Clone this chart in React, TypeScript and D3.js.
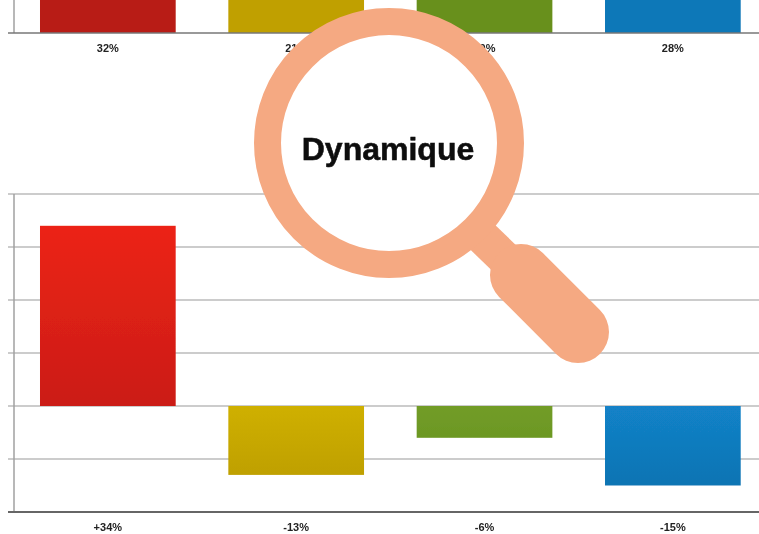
import React from 'react';
import * as d3 from 'd3';

const categories = ['a', 'b', 'c', 'd'];
const shareValues = [32, 21, 20, 28];
const shareLabels = ['32%', '21%', '20%', '28%'];
const dynamicValues = [34, -13, -6, -15];
const dynamicLabels = ['+34%', '-13%', '-6%', '-15%'];
const dynamicTicks = [40, 30, 20, 10, 0, -10, -20];
const topColors = ['#b81c14', '#c0a002', '#68901f', '#1078b8'];
const gradients = [
  ['#ec2419', '#cb1c14'],
  ['#cfb005', '#bfa000'],
  ['#729c28', '#6c9823'],
  ['#1282c8', '#0f74b3'],
];

const WIDTH = 759;
const HEIGHT = 534;

const x = d3.scaleBand<string>().domain(categories).range([14, 766.7]).paddingInner(0.2795).paddingOuter(0.138);
const y = d3.scaleLinear().domain([-20, 40]).range([512, 194]);
// the upper chart is cropped by the frame, only its baseline shows
const yTop = d3.scaleLinear().domain([0, 40]).range([33, -179]);

export default function App() {
  return (
    <svg
      width={WIDTH}
      height={HEIGHT}
      viewBox={`0 0 ${WIDTH} ${HEIGHT}`}
      style={{ position: 'absolute', left: 0, top: 0, background: '#fff' }}
      fontFamily="'Liberation Sans', Arial, sans-serif"
    >
      <defs>
        {gradients.map((g, i) => (
          <linearGradient key={i} id={`bar${i}`} x1="0" y1="0" x2="0" y2="1">
            <stop offset="0%" stopColor={g[0]} />
            <stop offset="100%" stopColor={g[1]} />
          </linearGradient>
        ))}
        <filter id="soft" x="-5%" y="-5%" width="110%" height="110%">
          <feGaussianBlur stdDeviation="0.6" />
        </filter>
      </defs>

      <g filter="url(#soft)">
        {/* upper chart */}
        <line x1={14} x2={14} y1={0} y2={33} stroke="#a0a0a0" strokeWidth={1.5} />
        {categories.map((c, i) => (
          <rect key={c} x={x(c)} y={yTop(shareValues[i])} width={x.bandwidth()} height={yTop(0) - yTop(shareValues[i])} fill={topColors[i]} />
        ))}
        <line x1={8} x2={WIDTH} y1={33} y2={33} stroke="#777" strokeWidth={1.6} />
        {categories.map((c, i) => (
          <text key={c} x={x(c)! + x.bandwidth() / 2} y={52} textAnchor="middle" fontSize={11} fontWeight="bold" fill="#222">
            {shareLabels[i]}
          </text>
        ))}

        {/* lower chart */}
        {dynamicTicks.slice(0, -1).map(t => (
          <line key={t} x1={8} x2={WIDTH} y1={y(t)} y2={y(t)} stroke="#bbb" strokeWidth={1.4} />
        ))}
        <line x1={14} x2={14} y1={y(40)} y2={y(-20)} stroke="#a0a0a0" strokeWidth={1.5} />
        {categories.map((c, i) => {
          const v = dynamicValues[i];
          return (
            <rect key={c} x={x(c)} y={y(Math.max(v, 0))} width={x.bandwidth()} height={Math.abs(y(v) - y(0))} fill={`url(#bar${i})`} />
          );
        })}
        <line x1={8} x2={WIDTH} y1={y(-20)} y2={y(-20)} stroke="#666" strokeWidth={2} />
        {categories.map((c, i) => (
          <text key={c} x={x(c)! + x.bandwidth() / 2} y={530.5} textAnchor="middle" fontSize={11} fontWeight="bold" fill="#222">
            {dynamicLabels[i]}
          </text>
        ))}
      </g>

      {/* magnifier */}
      <g stroke="#f5a982" fill="none" strokeLinecap="round">
        <line x1={470} x2={530} y1={225} y2={283} strokeWidth={35} strokeLinecap="butt" />
        <line x1={521} x2={578} y1={275} y2={332} strokeWidth={62} />
        <circle cx={389} cy={143} r={121.5} fill="#fff" strokeWidth={27} />
      </g>
      <text x={388} y={160} textAnchor="middle" fontSize={32} fontWeight="bold" fill="#0a0a0a" stroke="#0a0a0a" strokeWidth={0.5} filter="url(#soft)">
        Dynamique
      </text>
    </svg>
  );
}
